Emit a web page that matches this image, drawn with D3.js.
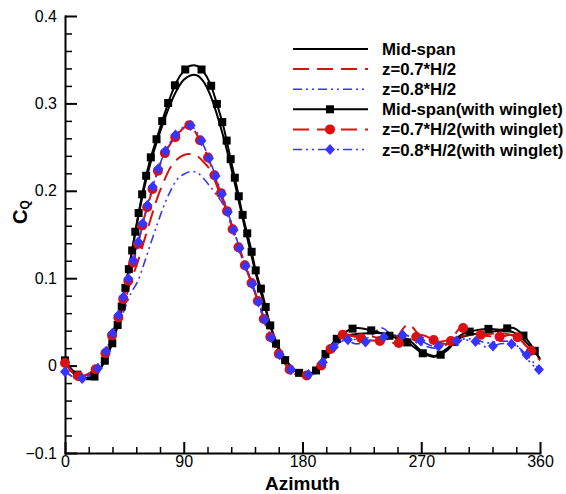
<!DOCTYPE html>
<html>
<head>
<meta charset="utf-8">
<script src="https://cdn.jsdelivr.net/npm/d3@7"></script>
<style>
  body { margin: 0; background: #fff; }
  svg { display: block; font-family: "Liberation Sans", Arial, sans-serif; }
</style>
</head>
<body>
<svg id="chart"></svg>
<script>
// azimuth samples (deg)
const azimuth = [0, 5, 10, 15, 20, 25, 30, 35, 40, 45, 50, 55, 60, 65, 70, 75, 80, 85, 90, 95,
  100, 105, 110, 115, 120, 125, 130, 135, 140, 145, 150, 155, 160, 165, 170, 175, 180, 185, 190, 195,
  200, 210, 220, 230, 240, 250, 260, 270, 280, 290, 300, 310, 320, 330, 340, 350, 360];

const midSpan = [0.004, -0.006, -0.012, -0.014, -0.013, -0.007, 0.006, 0.024, 0.050, 0.085, 0.125, 0.166, 0.203, 0.233, 0.258, 0.280, 0.300, 0.316, 0.327, 0.332,
  0.332, 0.325, 0.310, 0.288, 0.262, 0.232, 0.200, 0.166, 0.134, 0.103, 0.075, 0.049, 0.028, 0.012, 0.001, -0.007, -0.011, -0.010, -0.004, 0.008,
  0.020, 0.033, 0.036, 0.037, 0.037, 0.034, 0.030, 0.017, 0.011, 0.020, 0.032, 0.036, 0.038, 0.040, 0.038, 0.026, 0.008];

const z07 = [0.003, -0.007, -0.012, -0.012, -0.008, -0.002, 0.010, 0.028, 0.048, 0.072, 0.097, 0.118, 0.143, 0.168, 0.192, 0.211, 0.227, 0.236, 0.241, 0.242,
  0.240, 0.233, 0.224, 0.206, 0.187, 0.167, 0.145, 0.122, 0.101, 0.080, 0.058, 0.037, 0.020, 0.007, -0.003, -0.009, -0.011, -0.011, -0.007, 0.004,
  0.017, 0.033, 0.034, 0.034, 0.031, 0.031, 0.047, 0.033, 0.027, 0.029, 0.034, 0.035, 0.036, 0.037, 0.034, 0.022, 0.006];

const z08 = [-0.006, -0.012, -0.015, -0.014, -0.010, -0.004, 0.008, 0.025, 0.044, 0.064, 0.083, 0.096, 0.117, 0.140, 0.162, 0.183, 0.200, 0.213, 0.219, 0.222,
  0.221, 0.214, 0.205, 0.195, 0.184, 0.167, 0.145, 0.122, 0.100, 0.079, 0.057, 0.036, 0.019, 0.006, -0.004, -0.010, -0.012, -0.012, -0.008, 0.002,
  0.014, 0.028, 0.030, 0.032, 0.043, 0.032, 0.030, 0.024, 0.020, 0.024, 0.030, 0.030, 0.026, 0.028, 0.026, 0.008, -0.008];

const midSpanWing = [0.006, -0.004, -0.011, -0.015, -0.015, -0.008, 0.005, 0.022, 0.047, 0.083, 0.124, 0.168, 0.207, 0.238, 0.262, 0.286, 0.308, 0.326, 0.337, 0.343,
  0.343, 0.336, 0.323, 0.300, 0.274, 0.240, 0.206, 0.170, 0.140, 0.106, 0.080, 0.049, 0.025, 0.010, 0.001, -0.006, -0.010, -0.011, -0.006, 0.006,
  0.020, 0.036, 0.043, 0.041, 0.037, 0.032, 0.026, 0.015, 0.010, 0.018, 0.035, 0.040, 0.042, 0.041, 0.043, 0.030, 0.007];

const z07Wing = [0.003, -0.006, -0.012, -0.011, -0.007, -0.002, 0.012, 0.032, 0.053, 0.081, 0.108, 0.137, 0.169, 0.195, 0.221, 0.241, 0.254, 0.264, 0.272, 0.275,
  0.264, 0.250, 0.232, 0.210, 0.190, 0.166, 0.142, 0.120, 0.100, 0.079, 0.056, 0.035, 0.019, 0.006, -0.004, -0.010, -0.011, -0.011, -0.009, 0.002,
  0.016, 0.035, 0.033, 0.029, 0.028, 0.026, 0.027, 0.035, 0.029, 0.025, 0.043, 0.037, 0.034, 0.033, 0.035, 0.022, 0.006];

const z08Wing = [-0.007, -0.012, -0.015, -0.014, -0.009, -0.003, 0.012, 0.033, 0.055, 0.083, 0.110, 0.138, 0.169, 0.197, 0.222, 0.242, 0.256, 0.266, 0.273, 0.275,
  0.267, 0.252, 0.234, 0.213, 0.192, 0.168, 0.145, 0.122, 0.102, 0.080, 0.058, 0.037, 0.020, 0.007, -0.003, -0.009, -0.011, -0.010, -0.004, 0.003,
  0.012, 0.032, 0.025, 0.028, 0.032, 0.035, 0.034, 0.028, 0.022, 0.025, 0.029, 0.028, 0.021, 0.025, 0.024, 0.012, -0.006];

const seriesNames = ["Mid-span", "z=0.7*H/2", "z=0.8*H/2",
  "Mid-span(with winglet)", "z=0.7*H/2(with winglet)", "z=0.8*H/2(with winglet)"];
const seriesValues = [midSpan, z07, z08, midSpanWing, z07Wing, z08Wing];

const xTicks = [0, 90, 180, 270, 360];
const yTicks = [-0.1, 0, 0.1, 0.2, 0.3, 0.4];

const W = 566, H = 494;
const margin = { top: 16, right: 26, bottom: 41, left: 65 },
      width = W - margin.left - margin.right,
      height = H - margin.top - margin.bottom;

const RED = "#dc1010", BLUE = "#3535ff";
const styles = [
  { color: "#000", dash: null, width: 2, marker: null },
  { color: RED, dash: "16,8", width: 2, marker: null },
  { color: BLUE, dash: "9,4,2,4,2,4", width: 1.6, marker: null },
  { color: "#000", dash: null, width: 2, marker: "square" },
  { color: RED, dash: "16,8", width: 2, marker: "circle" },
  { color: BLUE, dash: "9,4,2,4,2,4", width: 1.6, marker: "diamond" }
];

const svg = d3.select("#chart").attr("width", W).attr("height", H);
const g = svg.append("g").attr("transform", `translate(${margin.left},${margin.top})`);

const x = d3.scaleLinear().domain([0, 360]).range([0, width]);
const y = d3.scaleLinear().domain([-0.1, 0.4]).range([height, 0]);

// minor ticks
g.append("g")
  .attr("transform", `translate(0,${height})`)
  .call(d3.axisBottom(x).tickValues(d3.range(0, 361, 18).filter(v => v % 90)).tickSize(-6).tickFormat(""))
  .call(a => a.select(".domain").remove())
  .selectAll("line").attr("stroke-width", 1.5);
g.append("g")
  .call(d3.axisLeft(y).tickValues(d3.range(-10, 41, 2).filter(v => v % 10).map(v => v / 100)).tickSize(-7).tickFormat(""))
  .call(a => a.select(".domain").remove())
  .selectAll("line").attr("stroke-width", 1.5);

// major axes
const xAxis = g.append("g")
  .attr("transform", `translate(0,${height})`)
  .call(d3.axisBottom(x).tickValues(xTicks).tickSize(-11).tickSizeOuter(0).tickPadding(3).tickFormat(d3.format("d")));
const yAxis = g.append("g")
  .call(d3.axisLeft(y).tickValues(yTicks).tickSize(-12).tickSizeOuter(0).tickPadding(8).tickFormat(d => d === 0 ? "0" : d3.format(".1f")(d)));

[xAxis, yAxis].forEach(a => {
  a.select(".domain").attr("stroke-width", 2).attr("stroke-linecap", "square");
  a.selectAll("line").attr("stroke-width", 2);
  a.selectAll("text").style("font-size", "16px").style("font-family", "Liberation Sans, Arial, sans-serif").attr("fill", "#000");
});

// axis titles
svg.append("text")
  .attr("x", margin.left + width / 2)
  .attr("y", 490)
  .attr("text-anchor", "middle")
  .style("font-size", "19px")
  .style("font-weight", "bold")
  .text("Azimuth");

const yt = svg.append("text")
  .attr("transform", "translate(27,212) rotate(-90)")
  .attr("text-anchor", "middle")
  .style("font-size", "20px")
  .style("font-weight", "bold");
yt.append("tspan").text("C");
yt.append("tspan").attr("dy", 2).style("font-size", "12px").text("Q");

// markers
function drawMarker(sel, type, color) {
  if (type === "square") {
    sel.append("rect").attr("x", -4).attr("y", -4).attr("width", 8).attr("height", 8).attr("fill", color);
  } else if (type === "circle") {
    sel.append("circle").attr("r", 5).attr("fill", color);
  } else if (type === "diamond") {
    sel.append("path").attr("d", "M0,-5.5L5,0L0,5.5L-5,0Z").attr("fill", color);
  }
}

const line = d3.line()
  .x((d, i) => x(azimuth[i]))
  .y(d => y(d))
  .curve(d3.curveCatmullRom.alpha(0.5));

const markerStep = 19;
const markerLayers = [];
seriesValues.forEach((vals, i) => {
  const st = styles[i];
  const p = g.append("path")
    .datum(vals)
    .attr("fill", "none")
    .attr("stroke", st.color)
    .attr("stroke-width", st.width)
    .attr("stroke-dasharray", st.dash)
    .attr("d", line);
  if (st.marker) markerLayers.push({ node: p.node(), st });
});

markerLayers.forEach(({ node, st }) => {
  const total = node.getTotalLength();
  const pts = d3.range(0, total + 0.01, markerStep).map(s => node.getPointAtLength(s));
  g.append("g").selectAll("g")
    .data(pts)
    .join("g")
    .attr("transform", p => `translate(${p.x},${p.y})`)
    .each(function () { drawMarker(d3.select(this), st.marker, st.color); });
});

// legend
const legend = svg.append("g");
seriesNames.forEach((name, i) => {
  const st = styles[i];
  const ly = 49 + i * 20.1;
  const row = legend.append("g").attr("transform", `translate(0,${ly})`);
  row.append("line")
    .attr("x1", 293).attr("x2", 368)
    .attr("stroke", st.color)
    .attr("stroke-width", st.width)
    .attr("stroke-dasharray", st.dash);
  if (st.marker) drawMarker(row.append("g").attr("transform", "translate(330,0)"), st.marker, st.color);
  row.append("text")
    .attr("x", 382)
    .attr("dy", "0.36em")
    .style("font-size", "16.8px")
    .style("font-weight", "bold")
    .text(name);
});
</script>
</body>
</html>
